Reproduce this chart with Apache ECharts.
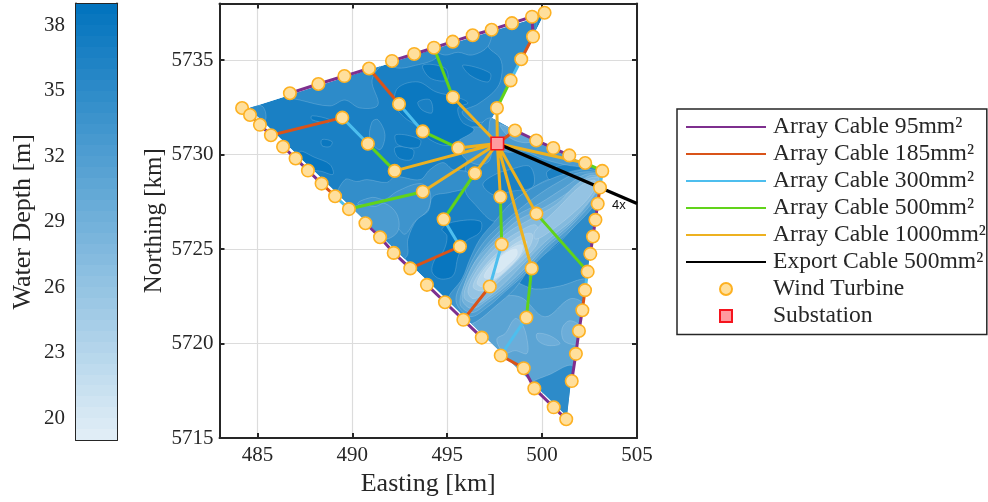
<!DOCTYPE html>
<html>
<head>
<meta charset="utf-8">
<style>html,body{margin:0;padding:0;background:#fff}#c{width:988px;height:502px}</style>
<script src="https://cdn.jsdelivr.net/npm/echarts@6/dist/echarts.min.js"></script>
</head>
<body>
<div id="c"></div>
<script>
// ---------- turbines (km) ----------
const turbineIds = ['A1','A2','A3','A4','A5','A6','A7','B1','B2','B3','B4','B5','B6','B7','C1','C2','C3','C4','C5','C6','C7','D1','D2','D3','D4','D5','D6','D7','E1','E2','E3','E4','E5','E6','E7','F1','F2','F3','F4','G1','G2','G3','G4','G5','G6','G7','H1','H2','H3','H4','H5','H6','H7','I1','I2','I3','I4','I5','I6','I7','J1','J2','J3','J4','J5','J6','J7','K1','K2','K3','K4','K5','K6','K7'];
const turbineEasting = [484.19,484.61,485.13,485.71,489.47,490.82,492.23,486.35,487.01,487.66,488.38,489.09,489.82,493.71,486.71,488.21,489.58,490.88,492.46,493.71,495.58,492.09,493.26,494.30,495.29,496.34,497.34,495.30,498.41,499.47,500.13,499.52,498.90,498.34,497.62,498.57,499.69,500.59,501.43,502.27,503.17,503.05,502.93,502.81,502.68,502.54,499.70,502.40,502.26,502.12,501.94,501.78,501.56,499.45,499.17,497.82,499.03,499.59,500.61,501.27,497.80,497.87,497.24,495.85,496.82,494.88,493.93,496.46,494.81,495.67,493.05,492.18,491.46,490.69];
const turbineNorthing = [5732.47,5732.10,5731.58,5731.03,5731.96,5730.58,5729.14,5730.42,5729.80,5729.16,5728.47,5727.80,5727.12,5728.04,5733.25,5733.74,5734.16,5734.56,5732.68,5731.23,5730.35,5734.96,5735.33,5735.66,5735.98,5736.32,5736.61,5733.04,5736.96,5737.30,5737.51,5736.25,5735.05,5733.93,5732.47,5731.28,5730.75,5730.35,5729.96,5729.56,5729.14,5728.26,5727.40,5726.55,5725.67,5724.75,5726.88,5723.81,5722.83,5721.77,5720.67,5719.46,5718.02,5723.98,5721.38,5719.37,5718.70,5717.63,5716.63,5716.00,5727.77,5725.26,5723.02,5721.26,5720.32,5722.19,5723.11,5729.02,5726.58,5725.14,5723.98,5724.80,5725.63,5726.37];
const substation = [497.64,5730.59];
const exportEnd = [505.0,5727.42];
const exportLabel = '4x';
const exportLabelAt = [504.05,5727.3];

// ---------- cable links ----------
const cable95 = ['A1-A2','A2-A3','A3-A4','B1-B2','B2-B3','B3-B4','C1-C2','C2-C3','C3-C4','D1-D2','D2-D3','D3-D4','D4-D5','D5-D6','D6-E1','E1-E2','E2-E3','E2-E4','F1-F2','F2-F3','F3-F4','G4-G5','G5-G6','G6-G7','H4-H5','H5-H6','H6-H7','I4-I5','I5-I6','I6-I7','J4-J5','J4-J6','J6-J7','K4-K5','K5-K6','K6-K7'];
const cable185 = ['A4-A5','B4-B5','C4-C5','E4-E5','F1-S','G3-G4','H3-H4','I3-I4','J3-J4','K3-K4'];
const cable300 = ['A5-A6','B5-B6','C5-C6','E5-E6','G2-G3','H2-H3','I2-I3','J2-J3','K2-K3'];
const cable500 = ['A6-A7','B6-B7','C6-C7','D3-D7','E6-E7','G1-G2','H1-H2','I1-I2','J1-J2','K1-K2'];
const cable1000 = ['A7-S','B7-S','C7-S','D7-S','E7-S','G1-S','H1-S','I1-S','J1-S','K1-S'];

// ---------- depth ----------
const depthTicks = [20,23,26,29,32,35,38];
const depthBandEdges = [19,19.5,20,20.5,21,21.5,22,22.5,23,23.5,24,24.5,25,25.5,26,26.5,27,27.5,28,28.5,29,29.5,30,30.5,31,31.5,32,32.5,33,33.5,34,34.5,35,35.5,36,36.5,37,37.5,38,38.5];
const eastingTicks = [485,490,495,500,505];
const northingTicks = [5715,5720,5725,5730,5735];

const siteOutline = [[484.55,5732.47],[494.30,5735.58],[499.47,5737.16],[500.10,5737.42],[499.52,5736.27],[498.89,5735.06],[498.36,5733.94],[497.36,5731.94],[498.57,5731.26],[500.57,5730.31],[502.26,5729.52],[503.21,5729.10],[503.10,5728.84],[502.84,5726.84],[502.52,5724.74],[502.26,5722.79],[501.89,5720.63],[501.52,5718.0],[501.31,5716.16],[484.55,5732.47]];
const neShelf = [[497.25,5736.58],[499.68,5737.27],[498.94,5735.06],[498.2,5733.73],[497.36,5731.94],[496.41,5731.73],[495.78,5732.26],[496.62,5732.68],[497.62,5733.52],[497.89,5734.37],[497.78,5735.11],[497.15,5735.74]];
const westTip = [[484.55,5732.47],[485.24,5732.57],[485.45,5731.94],[485.13,5731.42],[484.61,5732.1]];
const nwBand = [[486.5,5733.11],[489.56,5734.16],[492.09,5734.95],[494.2,5735.63],[494.41,5735.11],[493.14,5734.68],[492.4,5734.58],[491.67,5734.79],[491.04,5733.95],[491.35,5732.63],[490.4,5732.47],[489.61,5732.89],[488.82,5732.58],[487.24,5732.89]];
const northBand = [[494.41,5735.53],[497.25,5736.58],[497.15,5735.74],[496.31,5735.27],[495.57,5735.42],[494.88,5735.27]];
const midPatch = [[490.93,5730.8],[491.04,5731.74],[491.35,5731.85],[491.72,5731.06],[491.46,5730.27]];
const westBand = [[489.24,5727.63],[489.61,5728.68],[490.24,5728.58],[490.77,5728.68],[491.82,5728.53],[492.25,5728.84],[493.57,5728.68],[494.09,5729.21],[494.78,5729.58],[495.3,5729.21],[496.09,5729.05],[496.09,5728.32],[495.14,5728],[494.25,5727.79],[493.99,5727.0],[493.41,5726.58],[492.93,5725.53],[492.88,5724.63],[492.25,5724.37]];
const westInner = [[490.3,5727.37],[491.04,5727.74],[491.72,5727.63],[492.35,5728.05],[493.57,5728.47],[494.09,5728.05],[493.99,5727.1],[493.3,5726.47],[492.77,5725.79],[492.35,5726.16]];
const westCore = [[489.98,5727.1],[490.51,5727.37],[491.19,5727.26],[491.72,5727.42],[492.35,5726.84],[492.4,5725.95],[491.72,5725.53],[491.04,5726.05]];
const eastOfSub = [[496.2,5730.26],[497.36,5731.94],[503.21,5729.1],[503.1,5728.89],[500.67,5728.79],[499.36,5728.16],[498.31,5727.37],[497.52,5726.47],[496.46,5727.37],[495.94,5728.16]];
const eastDeepA = [[496.88,5728.42],[497.52,5728.95],[498.31,5729.21],[499.36,5729.37],[499.52,5728.32],[498.31,5728.05],[497.52,5727.84]];
const eastDeepB = [[500.26,5729.1],[501.2,5729.47],[502.41,5729.31],[501.47,5729.1],[500.41,5728.68]];
const northOfSub = [[497.2,5731.42],[497.36,5731.94],[498.84,5731.16],[500.57,5730.26],[501.73,5729.74],[502.52,5729.37],[501.47,5729.42],[500.15,5729.74],[499.1,5730.16],[498.05,5730.16],[497.25,5730.79]];
const northOfSubCore = [[497.78,5731.58],[498.57,5731.26],[499.63,5730.79],[499.1,5730.63],[498.31,5730.89]];
const westOfSub = [[495.78,5731.21],[496.62,5731.47],[497.25,5731.05],[497.25,5729.74],[496.62,5729.47],[495.78,5730.0]];
const southEastDeep = [[499.41,5724],[500.94,5725.37],[502.84,5727.37],[502.52,5724.74],[502.26,5722.79],[499.63,5722.79]];
const southOuter = [[495.41,5721.74],[496.46,5721.42],[497.25,5722.37],[498.31,5723.26],[499.63,5722.89],[500.94,5723.05],[502.31,5723.42],[502.26,5722.79],[501.89,5720.63],[501.52,5718.58],[499.36,5717.9],[497.78,5719.48]];
const southInner = [[496.2,5721.47],[497.52,5722.37],[498.84,5722.47],[500.15,5721.42],[501.47,5722.37],[502.15,5722.1],[501.89,5720.63],[501.52,5718.58],[499.36,5717.9],[497.78,5719.48]];
const southPatchA = [[497.78,5719.74],[497.62,5720.26],[498.05,5720.53],[498.57,5721.32],[498.94,5721.05],[499.2,5720.26],[499.2,5719.48],[498.57,5719.63],[498.05,5719.48]];
const southPatchB = [[499.73,5720.53],[500.41,5720.42],[500.94,5720],[500.31,5719.9],[499.78,5720.16]];
const southPatchC = [[501.05,5720.79],[501.47,5721.21],[502.15,5720.79],[502.15,5720],[501.2,5720.1]];
const southTip = [[499.36,5717.74],[500.52,5718.42],[501.57,5718.84],[501.73,5717.9],[501.31,5716.05]];
const ridge335 = [[495.04,5722.37],[495.78,5723.43],[496.2,5724.48],[496.73,5725.54],[497.52,5726.48],[498.31,5727.38],[499.36,5728.17],[500.67,5728.8],[501.73,5729.11],[502.52,5729.22],[503.1,5728.9],[502.84,5727.64],[501.73,5726.48],[500.67,5725.27],[499.63,5724.38],[498.57,5722.91],[497.52,5721.96],[496.62,5721.22],[496.09,5721.06],[495.41,5721.85]];
const ridge32 = [[495.46,5722.27],[495.99,5723.69],[496.51,5724.75],[497.15,5725.64],[498.04,5726.48],[499.63,5727.75],[500.94,5728.59],[502,5729.06],[503.1,5728.9],[502.94,5727.64],[501.47,5725.96],[500.15,5724.75],[498.94,5723.54],[498.04,5722.75],[497.15,5721.96],[496.2,5721.43]];
const ridge305 = [[495.67,5722.12],[496.15,5723.69],[496.83,5724.9],[497.62,5725.8],[498.62,5726.75],[499.89,5727.43],[501.2,5728.27],[502.26,5728.95],[503.1,5728.85],[502.94,5727.9],[501.57,5726.27],[500.15,5725],[499.1,5723.85],[498.1,5722.91],[497.15,5722.17],[496.3,5721.64]];
const ridge29 = [[495.78,5722.38],[496.3,5724.06],[497.15,5725.12],[498.04,5725.96],[498.83,5726.59],[500.15,5727.22],[501.36,5728],[502.52,5728.9],[503.1,5728.69],[502.89,5728.06],[501.63,5726.48],[500.15,5725.17],[499.15,5724.06],[498.1,5723.06],[497.15,5722.33],[496.3,5721.85]];
const ridge275 = [[495.88,5722.49],[496.41,5723.85],[497.36,5725.12],[498.31,5725.96],[499.2,5726.48],[500.78,5727.38],[501.89,5728.48],[502.94,5728.8],[502.89,5728.17],[501.73,5726.69],[500.15,5725.38],[499.05,5724.27],[498.04,5723.22],[497.2,5722.49],[496.52,5722.12]];
const ridge26Main = [[496.09,5722.8],[496.62,5723.96],[497.62,5725.12],[498.83,5725.96],[499.68,5726.27],[499.78,5725.38],[498.94,5724.38],[497.89,5723.43],[497.04,5722.7],[496.36,5722.38]];
const ridge26North = [[499.63,5725.96],[500.78,5727.11],[502,5728.32],[502.78,5728.64],[502.63,5727.96],[501.63,5726.9],[500.15,5725.75],[499.63,5725.54]];
const ridge245 = [[496.36,5723.01],[496.94,5724.06],[497.89,5725.01],[498.94,5725.75],[499.47,5725.8],[499.36,5725.17],[498.62,5724.33],[497.67,5723.43],[496.94,5722.8]];
const ridge23 = [[496.57,5723.22],[497.15,5724.17],[498.04,5724.9],[498.94,5725.48],[499.2,5725.38],[498.94,5724.8],[498.31,5724.06],[497.52,5723.38],[496.88,5723.01]];
const ridge215 = [[496.94,5723.54],[497.52,5724.38],[498.31,5725.01],[498.94,5725.22],[498.83,5724.69],[498.15,5723.96],[497.46,5723.43]];
const ridge20 = [[497.41,5723.96],[497.94,5724.69],[498.62,5725.01],[498.67,5724.69],[498.2,5724.17],[497.67,5723.75]];
const deepSouth = [[494.72,5726.06],[495.3,5726.43],[496.73,5726.48],[496.73,5725.9],[495.94,5725.38],[495.57,5724.59],[495.3,5723.59],[494.62,5723.43],[494.2,5723.8],[494.36,5724.48],[494.78,5724.85],[494.99,5725.69]];
const deepCentre = [[492.4,5733.53],[493.46,5733.85],[494.41,5733.32],[495.46,5733.06],[496.09,5732.74],[495.57,5732.48],[495.78,5731.74],[496.41,5731.32],[495.67,5730.8],[495.04,5730.48],[494.09,5730.8],[493.57,5731.43],[492.77,5731.95],[492.25,5732.64]];
const deepCentreHole = [[493.46,5732.79],[494.09,5732.9],[494.2,5732.22],[493.67,5732.37]];
const deepNorthA = [[495.83,5734.74],[497.25,5734.32],[497.15,5733.85],[496.2,5734.21]];
const deepNorthB = [[493.72,5734.74],[494.88,5734.58],[494.99,5733.95],[494.09,5734.06]];
const deepMidA = [[492.25,5730.38],[493.2,5730.27],[493.1,5729.74],[492.41,5729.85]];
const deepMidB = [[492.3,5731.06],[493.57,5730.8],[493.46,5730.38],[492.4,5730.53]];
const deepWestA = [[487.24,5730.17],[488.03,5729.85],[488.82,5729.48],[488.98,5728.96],[488.4,5729.11],[487.5,5729.32]];
const deepWestB = [[487.87,5732.06],[488.82,5731.85],[488.72,5731.69],[487.87,5731.85]];
const deepWestC = [[488.4,5730.8],[488.93,5730.69],[488.82,5730.43],[488.4,5730.48]];

// painted in this order: [depth in m, contour]
const contourLayers = [
  [36.7,siteOutline],[35,neShelf],[35,westTip],[35,nwBand],[35,northBand],[35,midPatch],
  [35,eastOfSub],[34.5,westBand],[33.5,westInner],[32.5,westCore],
  [36.7,eastDeepA],[36.7,eastDeepB],[32.5,northOfSub],[30.5,northOfSubCore],[33.5,westOfSub],
  [35,southEastDeep],[33,southOuter],[31,southInner],[29.5,southPatchA],[29.5,southPatchB],[29.5,southPatchC],[35,southTip],
  [33.5,ridge335],[32,ridge32],[30.5,ridge305],[29,ridge29],[27.5,ridge275],[26,ridge26Main],[26,ridge26North],[24.5,ridge245],[23,ridge23],[21.5,ridge215],[20,ridge20],
  [38.3,deepSouth],[38,deepCentre],[36.7,deepCentreHole],[38,deepNorthA],[38,deepNorthB],[38,deepMidA],[38,deepMidB],[38.3,deepWestA],[38,deepWestB],[38,deepWestC]
];

// ---------- styles ----------
const ink = '#262626';
const serif = '"Liberation Serif","Times New Roman",serif';
const shallowRGB = [227,239,247], deepRGB = [0,114,189];
function depthColor(d){
  const t = Math.max(0,Math.min(1,(d-19)/20));
  const c = shallowRGB.map((s,i)=>Math.round(s+(deepRGB[i]-s)*t));
  return 'rgb('+c.join(',')+')';
}
function turbine(id){
  if(id==='S') return substation;
  const i = turbineIds.indexOf(id);
  return [turbineEasting[i],turbineNorthing[i]];
}
function linkData(links){
  const out=[];
  links.forEach(l=>{const p=l.split('-');out.push(turbine(p[0]),turbine(p[1]),[null,null]);});
  return out;
}
function cableSeries(name,color,links,width){
  return {name,type:'line',xAxisIndex:0,yAxisIndex:0,data:linkData(links),showSymbol:false,symbol:'none',
    connectNulls:false,z:3,animation:false,lineStyle:{color,width:width||3},itemStyle:{color},emphasis:{disabled:true}};
}
const tickAxis = (extra)=>Object.assign({
  type:'value',axisLine:{show:true,onZero:false,lineStyle:{color:ink,width:2}},
  axisTick:{show:true,inside:true,length:5,lineStyle:{color:ink,width:2}},
  splitLine:{show:false},axisLabel:{show:false}},extra);
const squareIcon = 'path://M0,0H10V10H0Z';
const lineLegend = n=>({name:n,itemStyle:{opacity:0},lineStyle:{width:2}});

const option = {
  backgroundColor:'#fff',animation:false,
  grid:[
    {left:219.5,top:3.5,width:417.5,height:436.5},
    {left:76,top:3.5,width:41,height:436.5}
  ],
  xAxis:[
    tickAxis({gridIndex:0,min:483,max:505,position:'bottom',
      axisTick:{show:true,inside:true,length:5,customValues:eastingTicks,lineStyle:{color:ink,width:2}},
      axisLabel:{show:true,customValues:eastingTicks,color:ink,fontFamily:serif,fontSize:21,margin:7,formatter:v=>String(v)},
      splitLine:{show:true,lineStyle:{color:'#dcdcdc',width:1.2}},
      name:'Easting [km]',nameLocation:'middle',nameGap:32,nameTextStyle:{color:ink,fontFamily:serif,fontSize:26}}),
    tickAxis({gridIndex:0,min:483,max:505,position:'top',
      axisTick:{show:true,inside:true,length:5,customValues:eastingTicks,lineStyle:{color:ink,width:2}}}),
    tickAxis({gridIndex:1,min:0,max:1,position:'bottom',axisTick:{show:false}}),
    tickAxis({gridIndex:1,min:0,max:1,position:'top',axisTick:{show:false}})
  ],
  yAxis:[
    tickAxis({gridIndex:0,min:5715,max:5738,position:'left',
      axisTick:{show:true,inside:true,length:5,customValues:northingTicks,lineStyle:{color:ink,width:2}},
      axisLabel:{show:true,customValues:northingTicks,color:ink,fontFamily:serif,fontSize:21,margin:6,formatter:v=>String(v)},
      splitLine:{show:true,lineStyle:{color:'#dcdcdc',width:1.2}},
      name:'Northing [km]',nameLocation:'middle',nameGap:53,nameTextStyle:{color:ink,fontFamily:serif,fontSize:25}}),
    tickAxis({gridIndex:0,min:5715,max:5738,position:'right',
      axisTick:{show:true,inside:true,length:5,customValues:northingTicks,lineStyle:{color:ink,width:2}}}),
    tickAxis({gridIndex:1,min:19,max:39,position:'left',
      axisTick:{show:true,inside:true,length:5,customValues:depthTicks,lineStyle:{color:ink,width:2}},
      axisLabel:{show:true,customValues:depthTicks,color:ink,fontFamily:serif,fontSize:21,margin:11,formatter:v=>String(v)},
      name:'Water Depth [m]',nameLocation:'middle',nameGap:40,nameTextStyle:{color:ink,fontFamily:serif,fontSize:26}}),
    tickAxis({gridIndex:1,min:19,max:39,position:'right',axisTick:{show:false}})
  ],
  legend:{
    orient:'vertical',left:677,top:109,
    padding:[6,1,6.5,8],itemWidth:80,itemHeight:12,itemGap:3,symbolKeepAspect:true,
    borderColor:ink,borderWidth:1.5,backgroundColor:'#fff',selectedMode:false,
    textStyle:{color:ink,fontFamily:serif,fontSize:23.6,padding:[0,0,0,2]},
    data:[lineLegend('Array Cable 95mm²'),lineLegend('Array Cable 185mm²'),lineLegend('Array Cable 300mm²'),lineLegend('Array Cable 500mm²'),lineLegend('Array Cable 1000mm²'),lineLegend('Export Cable 500mm²'),{name:'Wind Turbine'},{name:'Substation',icon:squareIcon}]
  },
  series:[
    {type:'custom',coordinateSystem:'cartesian2d',xAxisIndex:0,yAxisIndex:0,z:2,silent:true,animation:false,
      data:contourLayers.map((l,i)=>[i]),encode:{x:[],y:[]},clip:true,
      renderItem:(params,api)=>{
        const layer = contourLayers[api.value(0)];
        const pts = layer[1].map(p=>api.coord(p));
        const clip = siteOutline.map(p=>api.coord(p));
        const outline = layer[1]===siteOutline;
        return {type:'polygon',shape:{points:pts,smooth:outline?0:0.35},
          clipPath:{type:'polygon',shape:{points:clip}},
          style:{fill:depthColor(layer[0]),stroke:outline?null:'rgba(255,255,255,0.22)',lineWidth:0.8}};
      }},
    {type:'custom',coordinateSystem:'cartesian2d',xAxisIndex:2,yAxisIndex:2,z:2,silent:true,animation:false,
      data:depthBandEdges.map(d=>[d]),encode:{x:[],y:[]},
      renderItem:(params,api)=>{
        const d = api.value(0);
        const a = api.coord([0,d]), b = api.coord([1,d+0.5]);
        const top = Math.round(b[1]), bottom = Math.round(a[1]);
        return {type:'rect',shape:{x:a[0],y:top,width:b[0]-a[0],height:bottom-top},
          style:{fill:depthColor(d+0.25)}};
      }},
    cableSeries('Array Cable 95mm²','#7E2F8E',cable95),
    cableSeries('Array Cable 185mm²','#D95319',cable185),
    cableSeries('Array Cable 300mm²','#4DBEEE',cable300),
    cableSeries('Array Cable 500mm²','#61D31A',cable500),
    cableSeries('Array Cable 1000mm²','#EDB120',cable1000),
    {name:'Export Cable 500mm²',type:'line',xAxisIndex:0,yAxisIndex:0,data:[substation,exportEnd],showSymbol:false,symbol:'none',z:3,
      animation:false,clip:true,lineStyle:{color:'#000',width:3.3},itemStyle:{color:'#000'},emphasis:{disabled:true}},
    {type:'custom',coordinateSystem:'cartesian2d',xAxisIndex:0,yAxisIndex:0,z:4,silent:true,animation:false,
      data:[exportLabelAt],
      renderItem:(params,api)=>{
        const p = api.coord([api.value(0),api.value(1)]);
        return {type:'text',x:p[0],y:p[1],style:{text:exportLabel,fill:'#111',font:'13px "Liberation Sans",sans-serif',align:'center',verticalAlign:'middle'}};
      }},
    {name:'Wind Turbine',type:'scatter',xAxisIndex:0,yAxisIndex:0,symbol:'circle',symbolSize:12.5,z:5,animation:false,
      data:turbineEasting.map((e,i)=>[e,turbineNorthing[i]]),
      itemStyle:{color:'#FFDF9C',borderColor:'#FDB122',borderWidth:1.6,opacity:1},emphasis:{disabled:true}},
    {name:'Substation',type:'scatter',xAxisIndex:0,yAxisIndex:0,symbol:squareIcon,symbolSize:12.5,z:6,animation:false,
      data:[substation],
      itemStyle:{color:'#FF9A9F',borderColor:'#F5141E',borderWidth:1.6,opacity:1},emphasis:{disabled:true}}
  ]
};
const chart = echarts.init(document.getElementById('c'),null,{renderer:'canvas'});
chart.setOption(option);
</script>
</body>
</html>
